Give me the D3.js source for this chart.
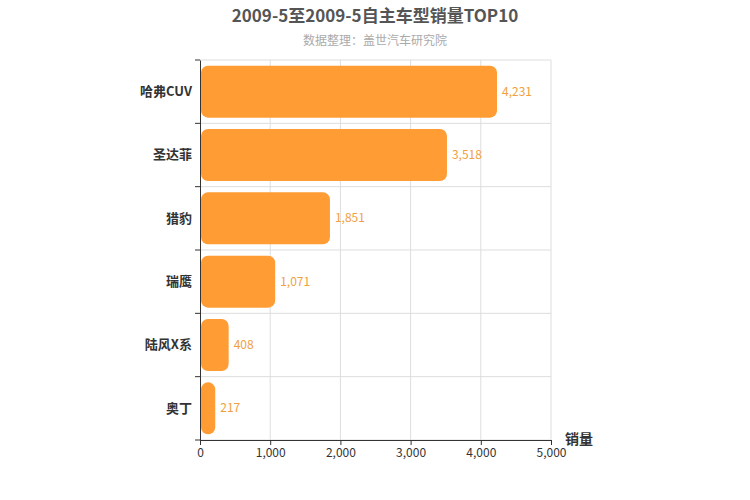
<!DOCTYPE html>
<html><head><meta charset="utf-8">
<script src="https://cdn.jsdelivr.net/npm/d3@7"></script>
<style>body{margin:0;background:#fff}text{font-family:"Noto Sans CJK SC",sans-serif}</style>
</head><body><svg id="c" width="750" height="500"></svg>
<script>
const categories = ["哈弗CUV","圣达菲","猎豹","瑞鹰","陆风X系","奥丁"];
const values = [4231,3518,1851,1071,408,217];
const xTicks = [0,1000,2000,3000,4000,5000];
const svg = d3.select("#c");
const L=200,R=551,T=60,B=440;
const x=d3.scaleLinear().domain([0,5000]).range([L,R]);
const y=d3.scaleBand().domain(categories).range([T,B]);
// grid
svg.append("g").selectAll("line").data(xTicks.slice(1)).join("line")
 .attr("x1",d=>x(d)).attr("x2",d=>x(d)).attr("y1",T).attr("y2",B).attr("stroke","#ddd");
svg.append("g").selectAll("line").data(categories).join("line")
 .attr("x1",L).attr("x2",R).attr("y1",d=>y(d)).attr("y2",d=>y(d)).attr("stroke","#ddd");
svg.append("line").attr("x1",L).attr("x2",R).attr("y1",B).attr("y2",B).attr("stroke","#ddd");
// bars
const bh=y.bandwidth()*0.82;
svg.append("g").selectAll("rect").data(values).join("rect")
 .attr("x",L+1).attr("y",(d,i)=>y(categories[i])+(y.bandwidth()-bh)/2)
 .attr("width",d=>x(d)-L-1).attr("height",bh).attr("rx",7).attr("fill","#ff9c33");
svg.append("g").selectAll("text").data(values).join("text")
 .attr("x",d=>x(d)+5).attr("y",(d,i)=>y(categories[i])+y.bandwidth()/2+4)
 .attr("font-size",12).attr("fill","#f0a040").text(d=>d3.format(",")(d));
// left axis
const ya=svg.append("g").attr("transform",`translate(${L},0)`).call(d3.axisLeft(y).tickSize(5).tickSizeOuter(0));
ya.select(".domain").attr("stroke","#333");
ya.selectAll(".tick line").attr("stroke","#333");
ya.selectAll("text").attr("font-size",13).attr("font-weight","bold").attr("fill","#333");
ya.selectAll(".tick").attr("transform",d=>`translate(0,${y(d)+y.bandwidth()/2})`);
// extra ticks at band boundaries
svg.append("g").selectAll("line").data(categories.concat([null])).join("line")
 .attr("x1",L-5).attr("x2",L).attr("y1",(d,i)=>T+i*y.step()).attr("y2",(d,i)=>T+i*y.step()).attr("stroke","#333");
ya.selectAll(".tick line").remove();
// bottom axis
const xa=svg.append("g").attr("transform",`translate(0,${B})`).call(d3.axisBottom(x).tickValues(xTicks).tickFormat(d3.format(",")).tickSize(5));
xa.select(".domain").attr("stroke","#333");
xa.selectAll(".tick line").attr("stroke","#333");
xa.selectAll("text").attr("font-size",12).attr("fill","#333");
svg.append("text").attr("x",565).attr("y",444).attr("font-size",14).attr("font-weight","bold").attr("fill","#333").text("销量");
svg.append("text").attr("x",375).attr("y",22).attr("text-anchor","middle").attr("font-size",17).attr("font-weight","bold").attr("fill","#555").text("2009-5至2009-5自主车型销量TOP10");
svg.append("text").attr("x",375).attr("y",45).attr("text-anchor","middle").attr("font-size",12).attr("fill","#aaa").text("数据整理：盖世汽车研究院");
</script></body></html>
